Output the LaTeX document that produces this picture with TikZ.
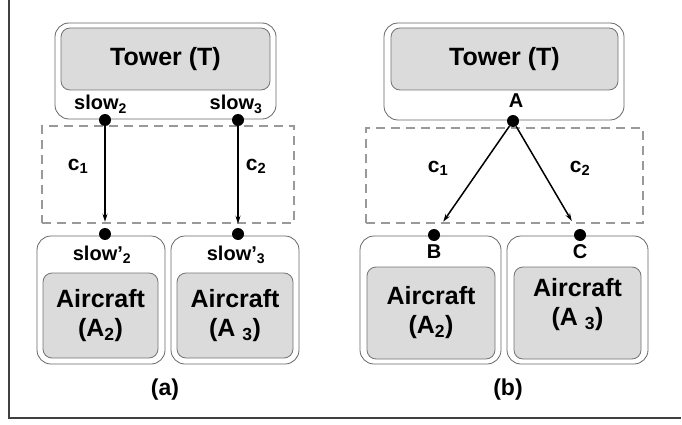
\documentclass[tikz,border=0pt]{standalone}
\usepackage{fontspec}
\setmainfont{Liberation Sans}
\usetikzlibrary{arrows.meta}

\begin{document}
\begin{tikzpicture}
  [x=1pt,y=-1pt,font=\bfseries,
   size/.style 2 args={minimum width=#1,minimum height=#2},
   holder/.style={draw=black!60,line width=0.8pt,rounded corners=14pt},
   part/.style={draw=black!55,line width=0.8pt,fill=black!14,rounded corners=9pt,
                align=center,font=\bfseries\fontsize{25}{29}\selectfont},
   bigtext/.style={align=center,font=\bfseries\fontsize{25}{29}\selectfont},
   channel/.style={draw=black!40,line width=1.5pt,dash pattern=on 9pt off 6pt},
   port/.style={circle,fill=black,inner sep=0pt,minimum size=12pt},
   portname/.style={anchor=base,font=\bfseries\fontsize{20}{22}\selectfont},
   conn/.style={anchor=base,font=\bfseries\fontsize{21}{22}\selectfont},
   caption/.style={anchor=base,font=\bfseries\fontsize{23}{26}\selectfont},
   flow/.style={-{Stealth[length=8pt,width=5pt]},line width=1.5pt,shorten >=#1}]

  \useasboundingbox (0,0) rectangle (682,425);
  \draw[black!75,line width=1.2pt] (9,0) -- (9,418) -- (681,418);

  % (a)
  \node[holder,size={221pt}{96pt}] (towA) at (165.5,71) {};
  \node[part,size={209pt}{62pt}] (towAin) at (165.5,59) {Tower (T)};
  \node[channel,size={252pt}{97pt}] (chanA) at (168,174.5) {};
  \node[holder,size={128pt}{128pt}] (acA2) at (101,300) {};
  \node[holder,size={128pt}{128pt}] (acA3) at (235,300) {};
  \node[part,size={115pt}{85pt}] (acA2in) at (100.5,315.5) {Aircraft\\(A\textsubscript{2})};
  \node[part,size={116pt}{85pt}] (acA3in) at (235,315.5) {Aircraft\\(A \textsubscript{3})};
  \node[portname] (nA2) at (100.5,110) {slow\textsubscript{2}};
  \node[portname] (nA3) at (236,110) {slow\textsubscript{3}};
  \node[portname] (mA2) at (102,260) {slow'\textsubscript{2}};
  \node[portname] (mA3) at (236,260) {slow'\textsubscript{3}};
  \node[conn] (cA1) at (78,170) {c\textsubscript{1}};
  \node[conn] (cA2) at (256,170) {c\textsubscript{2}};
  \node[port] (sA2) at (105,120) {};
  \node[port] (sA3) at (238,120) {};
  \node[port] (tA2) at (105,234) {};
  \node[port] (tA3) at (238,234) {};
  \draw[flow=6pt] (sA2) -- (tA2);
  \draw[flow=4pt] (sA3) -- (tA3);
  \node[caption] (capA) at (165,395) {(a)};

  % (b)
  \node[holder,size={240pt}{97pt}] (towB) at (504,71.5) {};
  \node[part,size={227pt}{62pt}] (towBin) at (504.5,59) {Tower (T)};
  \node[channel,size={277pt}{95pt}] (chanB) at (504.5,175.5) {};
  \node[holder,size={141pt}{128pt}] (acB) at (430.5,300) {};
  \node[holder,size={141pt}{128pt}] (acC) at (577.5,300) {};
  \node[part,size={128pt}{92pt}] (acBin) at (431,313) {Aircraft\\(A\textsubscript{2})};
  \node[part,size={127pt}{92pt}] (acCin) at (577.5,313) {};
  \node[bigtext] (acCtext) at (577.5,305) {Aircraft\\(A \textsubscript{3})};
  \node[portname] (nA) at (516,108) {A};
  \node[portname] (nB) at (434,258) {B};
  \node[portname] (nC) at (580,258) {C};
  \node[conn] (cB1) at (438,172) {c\textsubscript{1}};
  \node[conn] (cB2) at (580,172) {c\textsubscript{2}};
  \node[port] (pA) at (513,121) {};
  \node[port] (pB) at (434,235) {};
  \node[port] (pC) at (580,235) {};
  \draw[flow=10pt] (pA) -- (pB);
  \draw[flow=10pt] (pA) -- (pC);
  \node[caption] (capB) at (508,395) {(b)};
\end{tikzpicture}
\end{document}
